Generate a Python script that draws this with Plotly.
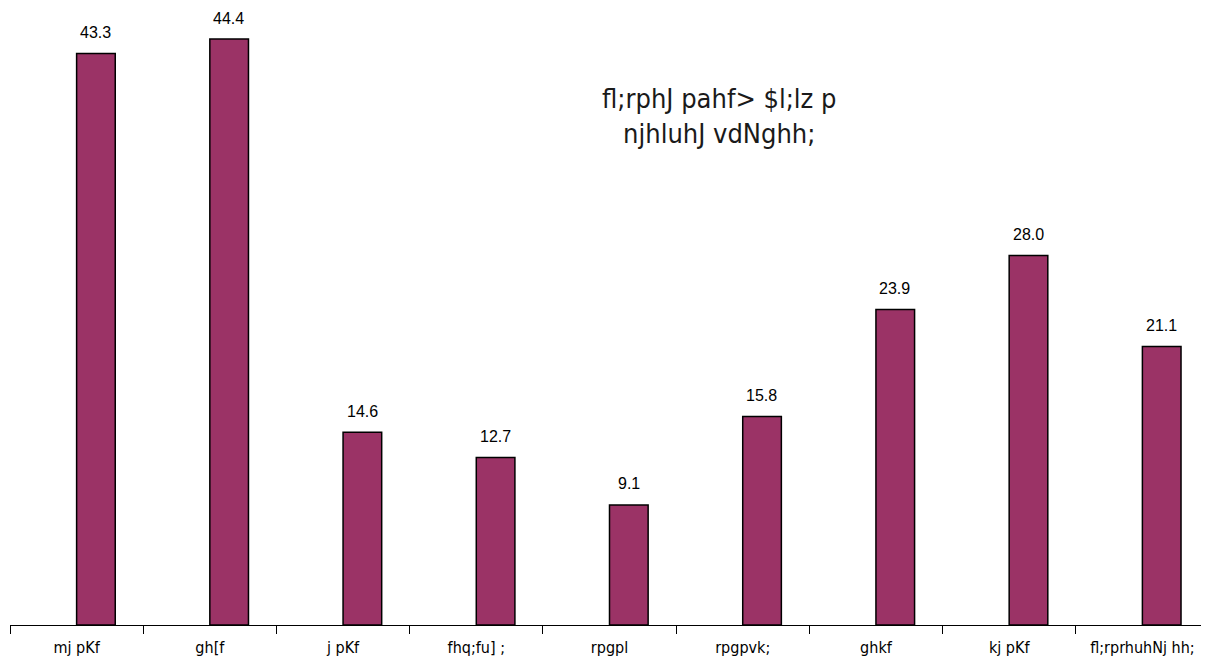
import plotly.graph_objects as go

categories = ["mj pKf", "gh[f", "j pKf", "fhq;fu] ;", "rpgpl", "rpgpvk;", "ghkf", "kj pKf", "fl;rprhuhNj hh;"]
values = [43.3, 44.4, 14.6, 12.7, 9.1, 15.8, 23.9, 28.0, 21.1]
title_lines = ["fl;rphJ pahf> $l;lz p", "njhluhJ vdNghh;"]

NARROW = "DejaVu Sans Condensed, Liberation Sans Narrow, Liberation Sans, sans-serif"
ARIAL = "Liberation Sans, Arial, sans-serif"

fig = go.Figure()
fig.add_trace(go.Bar(
    x=categories, y=values,
    width=0.29, offset=0,
    marker=dict(color="#9B3366", line=dict(color="black", width=1.5)),
    hoverinfo="x+y",
))

for c, v in zip(categories, values):
    fig.add_annotation(
        x=c, y=v, xref="x", yref="y", text=f"{v:.1f}", showarrow=False,
        xshift=19, yshift=21, yanchor="middle",
        font=dict(family=ARIAL, size=16, color="black"),
    )

fig.add_annotation(
    x=0.592, y=0.828, xref="paper", yref="paper",
    text="<br>".join(title_lines), showarrow=False,
    font=dict(family=NARROW, size=27, color="#1a1a1a"),
    align="center", yanchor="middle",
)

fig.update_layout(
    width=1201, height=653,
    margin=dict(l=2, r=0, t=2, b=36),
    plot_bgcolor="white", paper_bgcolor="white",
    showlegend=False,
    xaxis=dict(
        type="category", tickson="boundaries", ticks="outside", ticklen=8,
        tickcolor="black", showline=True, linecolor="black", linewidth=1,
        tickfont=dict(family=NARROW, size=16, color="black"),
        ticklabelstandoff=8,
        showgrid=False, automargin=False,
    ),
    yaxis=dict(range=[0, 46.6], visible=False, showgrid=False, automargin=False),
)

fig.write_html("out.html")
